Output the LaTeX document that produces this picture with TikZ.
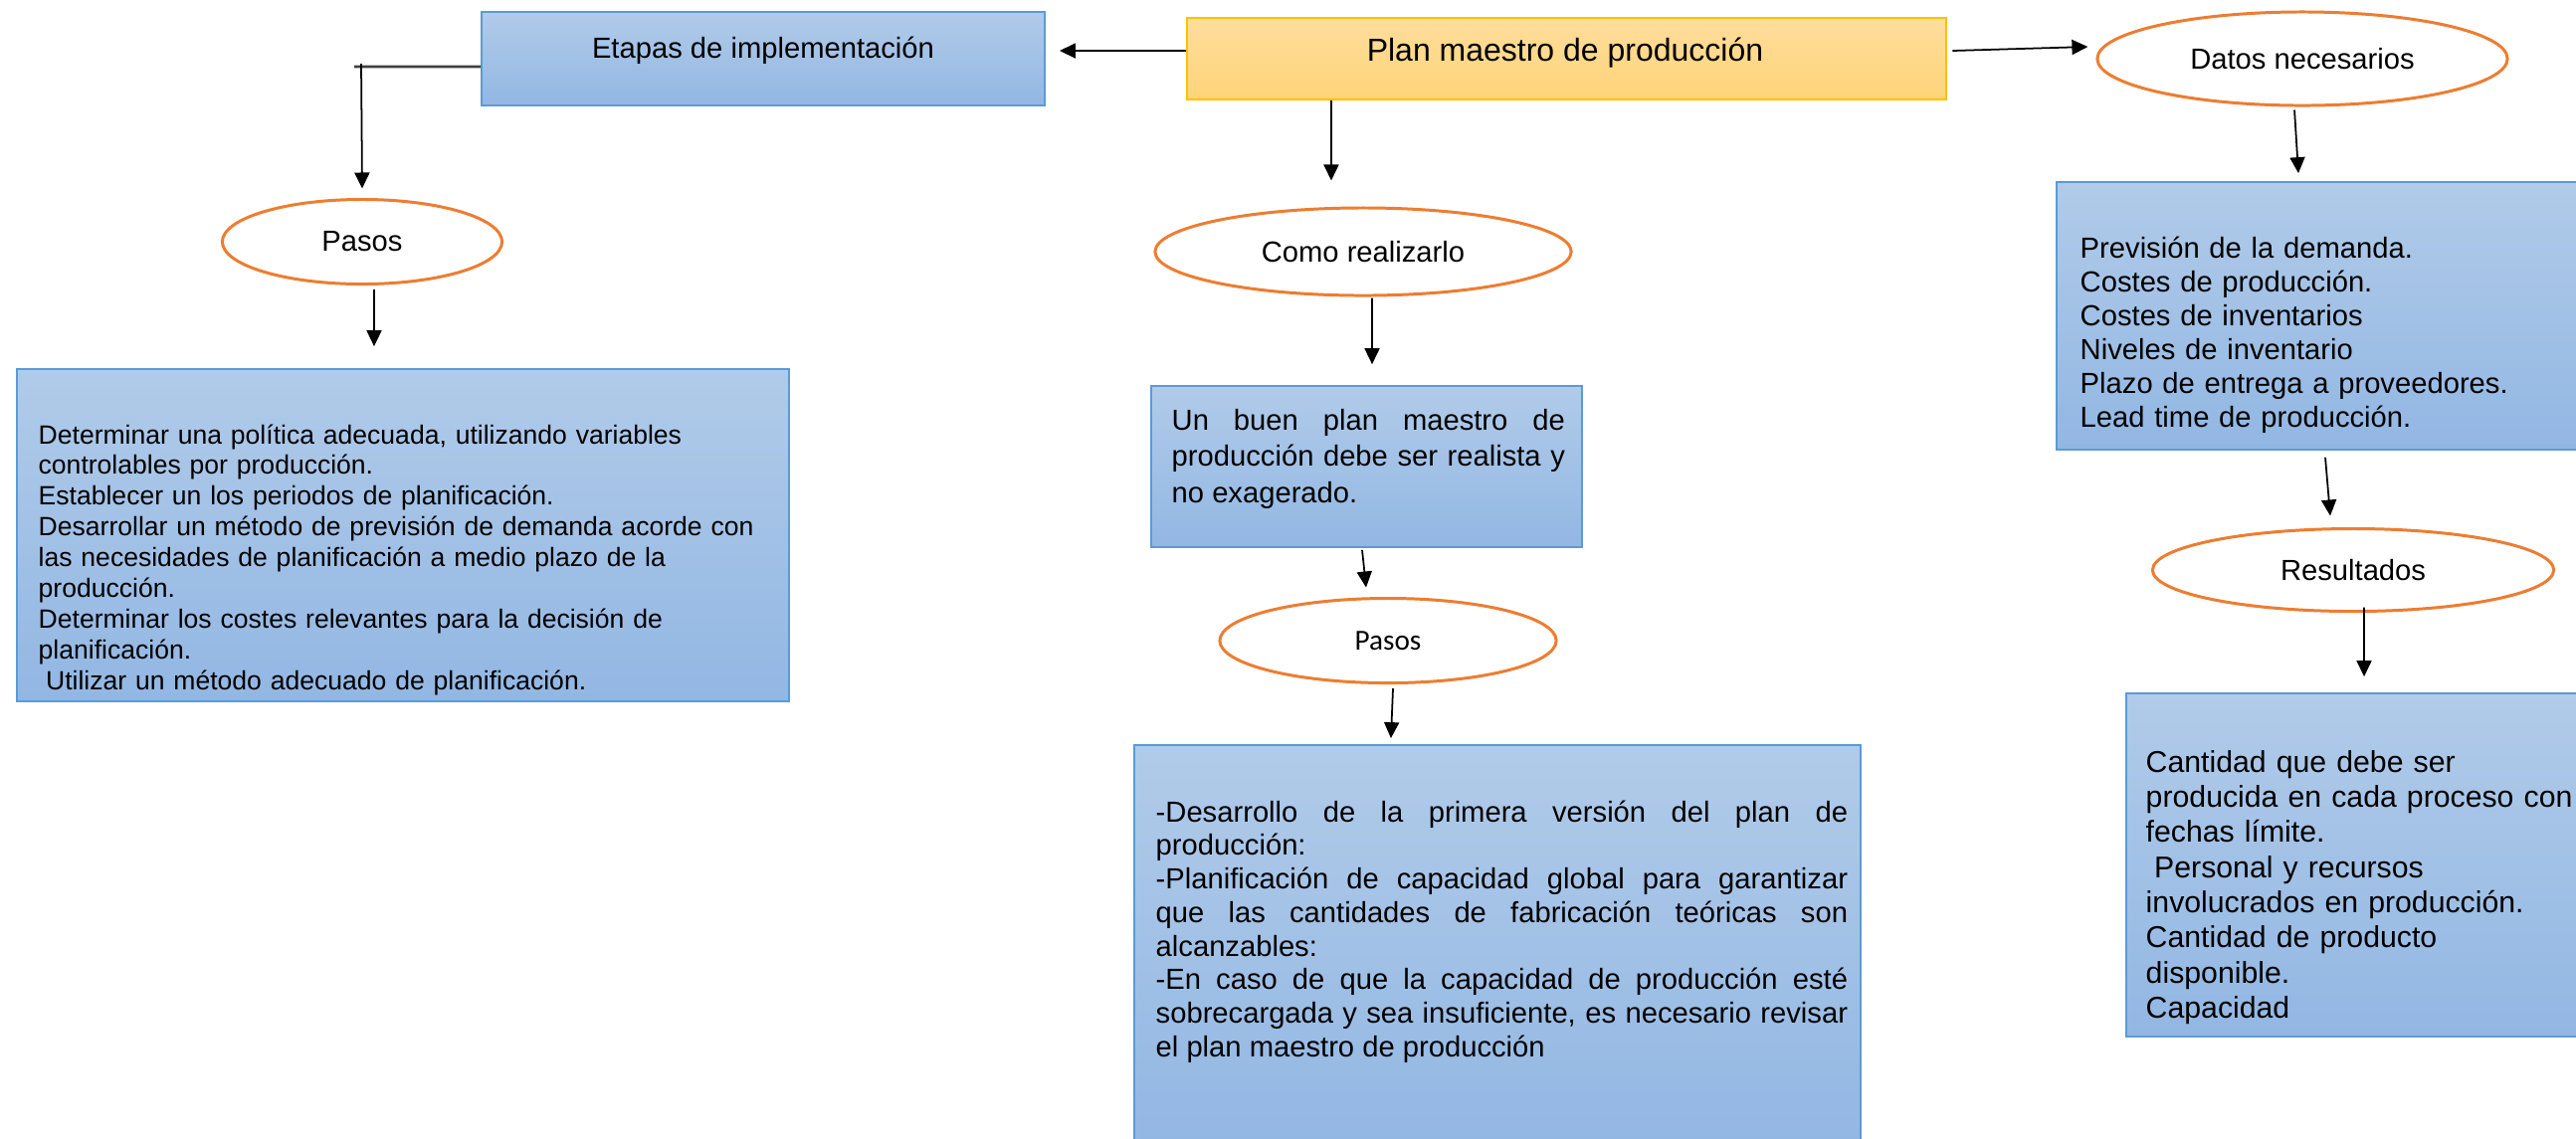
\documentclass[tikz,border=0pt]{standalone}
\usepackage{fontspec}
\setmainfont{Liberation Sans}
\newfontfamily\calibri{Carlito}
\usetikzlibrary{shapes.geometric, arrows.meta}

\definecolor{cajaArriba}{RGB}{177,203,233}
\definecolor{cajaAbajo}{RGB}{146,183,227}
\definecolor{bordeAzul}{RGB}{91,155,213}
\definecolor{oroArriba}{RGB}{255,221,156}
\definecolor{oroAbajo}{RGB}{255,212,120}
\definecolor{bordeOro}{RGB}{255,192,0}
\definecolor{naranja}{RGB}{237,125,49}

\tikzset{
  caja/.style={draw=bordeAzul, line width=0.45pt, top color=cajaArriba, bottom color=cajaAbajo, inner sep=0pt},
  cajaOro/.style={draw=bordeOro, line width=0.6pt, top color=oroArriba, bottom color=oroAbajo, inner sep=0pt},
  elipse/.style={ellipse, draw=naranja, line width=0.85pt, fill=white, inner sep=0pt, font=\fontsize{8.3}{10}\selectfont},
  flecha/.style={-{Triangle[length=1.6mm,width=1.5mm]}, line width=0.5pt},
  linea/.style={draw=black!75, line width=0.8pt},
  texto/.style={anchor=base west, inner sep=0pt}
}

\begin{document}
\begin{tikzpicture}[x=0.01cm, y=-0.01cm]
\useasboundingbox (0,0) rectangle (2589,1144);
\clip (0,0) rectangle (2589,1144);

\node[cajaOro, minimum width=76.3mm, minimum height=8.2mm] (plan) at (1574.5,59) {};
\node[font=\fontsize{9.1}{11}\selectfont] (planT) at (1573,53) {Plan maestro de producción};
\node[caja, minimum width=56.6mm, minimum height=9.4mm] (etapas) at (767,59) {};
\node[font=\fontsize{8.3}{10}\selectfont] (etapasT) at (767,51) {Etapas de implementación};

\node[elipse, minimum width=41.2mm, minimum height=9.4mm] (datos) at (2314,59) {Datos necesarios};
\node[elipse, minimum width=28.1mm, minimum height=8.5mm] (pasosIzq) at (364,243) {Pasos};
\node[elipse, minimum width=41.8mm, minimum height=8.8mm] (como) at (1370,253) {Como realizarlo};
\node[elipse, minimum width=33.8mm, minimum height=8.5mm, font=\calibri\fontsize{8.3}{10}\selectfont] (pasosCentro) at (1395,644) {Pasos};
\node[elipse, minimum width=40.3mm, minimum height=8.3mm] (resultados) at (2365,573) {Resultados};

\node[caja, minimum width=77.6mm, minimum height=33.4mm] (izq) at (405,538) {};
\node[caja, minimum width=43.3mm, minimum height=16.2mm] (buen) at (1373.5,469) {};
\node[caja, minimum width=73mm, minimum height=40.1mm] (pasosTexto) at (1505,949.5) {};
\node[caja, minimum width=53.3mm, minimum height=26.9mm] (datosTexto) at (2333.5,317.5) {};
\node[caja, minimum width=46.3mm, minimum height=34.5mm] (resTexto) at (2368.5,869.5) {};

\node[texto, text width=75mm, align=left, font=\fontsize{7.55}{8.8}\selectfont] (izqT) at (38,446) {Determinar una política adecuada, utilizando variables\\controlables por producción.\\Establecer un los periodos de planificación.\\Desarrollar un método de previsión de demanda acorde con\\las necesidades de planificación a medio plazo de la\\producción.\\Determinar los costes relevantes para la decisión de\\planificación.\\\hspace*{0.28em}Utilizar un método adecuado de planificación.};
\node[texto, text width=39.5mm, align=justify, font=\fontsize{8.3}{10.4}\selectfont] (buenT) at (1177,432) {\tolerance=10000\hbadness=10000\hyphenpenalty=10000 Un buen plan maestro de\linebreak producción debe ser realista y\linebreak no exagerado.};
\node[texto, text width=69.5mm, align=justify, font=\fontsize{8.3}{9.6}\selectfont] (pasosT) at (1161,826) {\tolerance=10000\hbadness=10000\hyphenpenalty=10000 -Desarrollo de la primera versión del plan de\linebreak producción:\par -Planificación de capacidad global para garantizar\linebreak que las cantidades de fabricación teóricas son\linebreak alcanzables:\par -En caso de que la capacidad de producción esté\linebreak sobrecargada y sea insuficiente, es necesario revisar\linebreak el plan maestro de producción};
\node[texto, text width=48mm, align=left, font=\fontsize{8.3}{9.67}\selectfont] (datosT) at (2090,259) {Previsión de la demanda.\\Costes de producción.\\Costes de inventarios\\Niveles de inventario\\Plazo de entrega a proveedores.\\Lead time de producción.};
\node[texto, text width=44mm, align=left, font=\fontsize{8.6}{10.05}\selectfont] (resT) at (2156,776) {Cantidad que debe ser\\producida en cada proceso con\\fechas límite.\\\hspace*{0.28em}Personal y recursos\\involucrados en producción.\\Cantidad de producto\\disponible.\\Capacidad};

\draw[flecha] ([yshift=0.8mm]plan.west) -- ([yshift=0.8mm,xshift=1.4mm]etapas.east);
\draw[flecha] ([yshift=0.8mm,xshift=0.5mm]plan.east) -- ([xshift=-0.8mm,yshift=1.2mm]datos.west);
\draw[flecha] ([xshift=-23.65mm]plan.south) -- ([xshift=-3.2mm,yshift=2.6mm]como.north);
\draw[flecha] ([xshift=0.9mm,yshift=-0.1mm]como.south) -- ([xshift=0.55mm,yshift=2.1mm]buen.north);
\draw[flecha] ([xshift=-0.45mm,yshift=-0.2mm]buen.south) -- ([xshift=-2.2mm,yshift=0.95mm]pasosCentro.north);
\draw[flecha] ([xshift=0.5mm,yshift=-0.4mm]pasosCentro.south) -- ([xshift=-10.7mm,yshift=0.6mm]pasosTexto.north);
\coordinate (esquina) at (356,67);
\draw[linea] ([yshift=-0.8mm]etapas.west) -- (esquina);
\draw[flecha] ([xshift=0.7mm,yshift=0.3mm]esquina) -- ([yshift=0.95mm]pasosIzq.north);
\draw[flecha] ([xshift=1.2mm,yshift=-0.4mm]pasosIzq.south) -- ([xshift=-2.9mm,yshift=2.2mm]izq.north);
\draw[flecha] ([xshift=-0.8mm,yshift=-0.3mm]datos.south) -- ([xshift=-2.35mm,yshift=0.8mm]datosTexto.north);
\draw[flecha] ([xshift=0.35mm,yshift=-0.7mm]datosTexto.south) -- ([xshift=-2.3mm,yshift=1.15mm]resultados.north);
\draw[flecha] ([xshift=1.1mm,yshift=0.55mm]resultados.south) -- ([xshift=0.75mm,yshift=1.6mm]resTexto.north);
\end{tikzpicture}
\end{document}
